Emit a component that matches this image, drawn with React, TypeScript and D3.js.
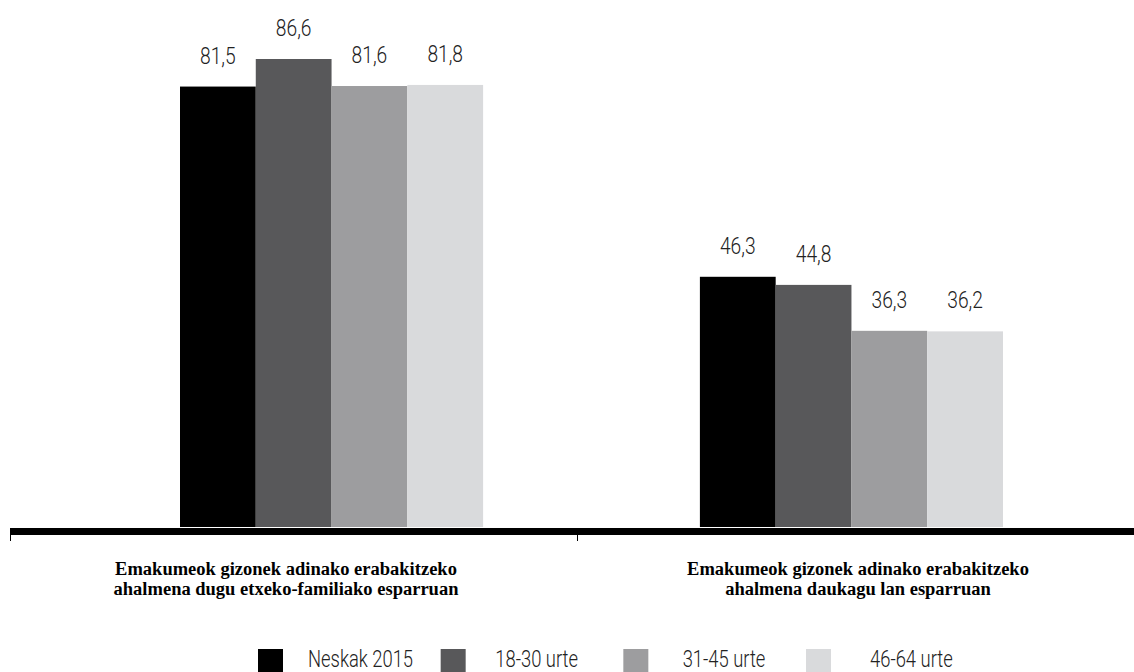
import React from "react";
import * as d3 from "d3";

const categories = [
  ["Emakumeok gizonek adinako erabakitzeko", "ahalmena dugu etxeko-familiako esparruan"],
  ["Emakumeok gizonek adinako erabakitzeko", "ahalmena daukagu lan esparruan"],
];
const seriesNames = ["Neskak 2015", "18-30 urte", "31-45 urte", "46-64 urte"];
const seriesColors = ["#000000", "#58585a", "#9d9d9f", "#d9dadc"];
const neskak2015 = [81.5, 46.3];
const urte1830 = [86.6, 44.8];
const urte3145 = [81.6, 36.3];
const urte4664 = [81.8, 36.2];
const seriesValues = [neskak2015, urte1830, urte3145, urte4664];

const W = 1134;
const H = 672;
const baseY = 527;

function condensed(cx: number, sx: number) {
  return `translate(${cx},0) scale(${sx},1) translate(${-cx},0)`;
}

export default function App() {
  const catIdx = categories.map((_, i) => String(i));
  const x0 = d3.scaleBand().domain(catIdx).range([180, 1003]).paddingInner(0.417).paddingOuter(0);
  const x1 = d3.scaleBand().domain(seriesNames).range([0, x0.bandwidth()]).padding(0);
  const y = d3.scaleLinear().domain([0, 86.6]).range([baseY, 59]);
  const axisBand = d3.scaleBand().domain(catIdx).range([10, 1144]);
  const labelX = d3.scalePoint().domain(catIdx).range([286, 858]);
  const legendSq = d3.scalePoint().domain(seriesNames).range([258, 806]);
  const legendTx = d3.scalePoint().domain(seriesNames).range([308, 870]);
  const fmt = (v: number) => v.toFixed(1).replace(".", ",");

  return (
    <svg width={W} height={H} style={{ position: "absolute", left: 0, top: 0, background: "#fff" }}>
      <rect x={0} y={0} width={W} height={H} fill="#fff" />
      {catIdx.map((c, ci) =>
        seriesNames.map((s, si) => {
          const v = seriesValues[si][ci];
          const bx = (x0(c) as number) + (x1(s) as number);
          const cx = bx + x1.bandwidth() / 2;
          return (
            <g key={c + s}>
              <rect x={bx} y={y(v)} width={x1.bandwidth()} height={baseY - y(v)} fill={seriesColors[si]} />
              <text
                x={cx}
                y={y(v) - 23}
                textAnchor="middle"
                fontFamily="Roboto"
                fontWeight={300}
                fontSize={24}
                fill="#222"
                transform={condensed(cx, 0.8)}
              >
                {fmt(v)}
              </text>
            </g>
          );
        })
      )}
      <rect x={10} y={528} width={W - 10} height={7} fill="#000" />
      {catIdx.map((c) => (
        <line key={"t" + c} x1={(axisBand(c) as number) + 0.5} x2={(axisBand(c) as number) + 0.5} y1={534} y2={541} stroke="#000" strokeWidth={1} />
      ))}
      {catIdx.map((c, ci) => {
        const cx = labelX(c) as number;
        return (
          <text key={"l" + c} x={cx} y={575} textAnchor="middle" fontFamily="Liberation Serif" fontWeight="bold" fontSize={18.5} fill="#000">
            {categories[ci].map((line, li) => (
              <tspan key={li} x={cx} dy={li === 0 ? 0 : 20}>
                {line}
              </tspan>
            ))}
          </text>
        );
      })}
      {seriesNames.map((s, si) => (
        <g key={"lg" + s}>
          <rect x={legendSq(s)} y={649} width={25} height={24} fill={seriesColors[si]} />
          <text
            x={legendTx(s)}
            y={667}
            fontFamily="Roboto"
            fontWeight={300}
            fontSize={23}
            fill="#222"
            transform={condensed(legendTx(s) as number, 0.8)}
          >
            {s}
          </text>
        </g>
      ))}
    </svg>
  );
}
